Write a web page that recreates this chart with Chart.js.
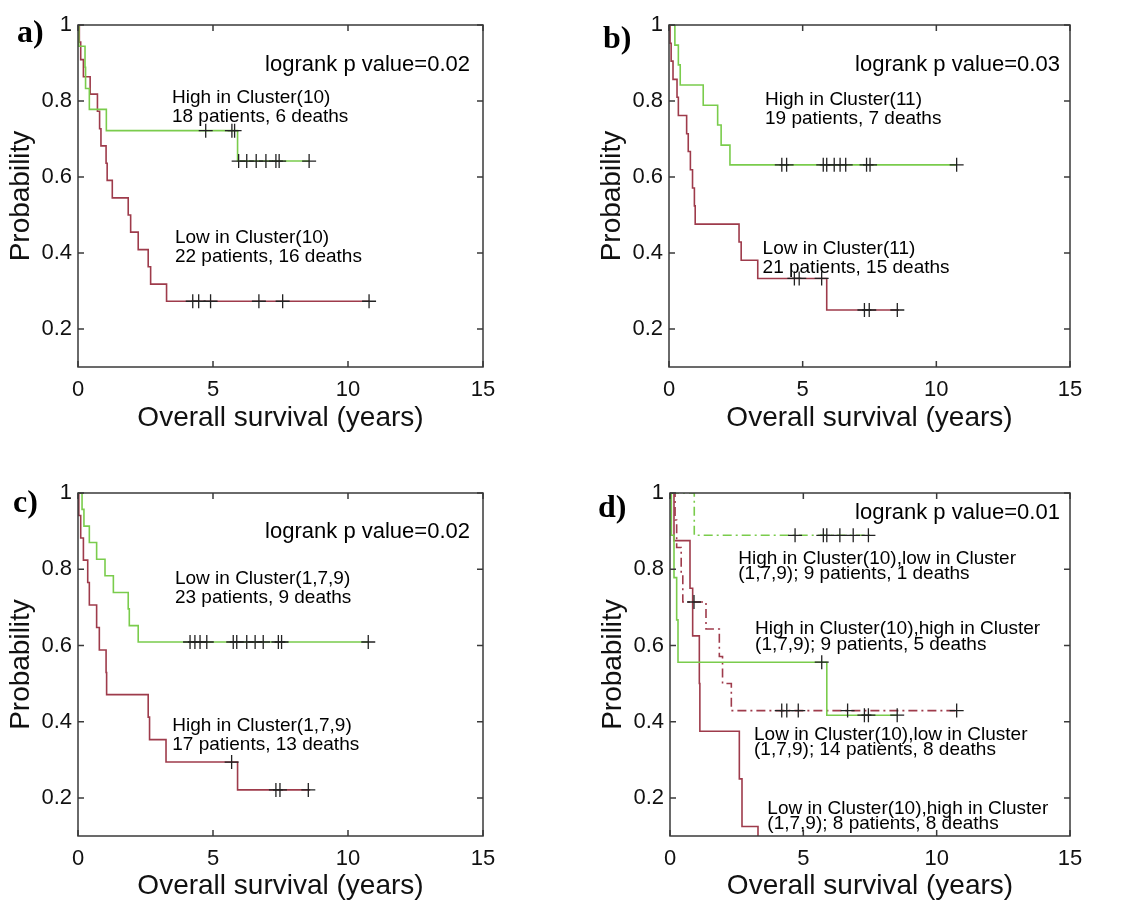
<!DOCTYPE html>
<html>
<head>
<meta charset="utf-8">
<script src="https://cdn.jsdelivr.net/npm/chart.js@4.4.0/dist/chart.umd.min.js"></script>
<style>
  body { margin: 0; background: #fff; }
  #wrap { position: relative; width: 1125px; height: 903px; overflow: hidden; }
  canvas { position: absolute; }
</style>
</head>
<body>
<div id="wrap">
  <canvas id="pa" width="545" height="450" style="left:0;top:0"></canvas>
  <canvas id="pb" width="534" height="450" style="left:591px;top:0"></canvas>
  <canvas id="pc" width="545" height="435" style="left:0;top:468px"></canvas>
  <canvas id="pd" width="533" height="435" style="left:592px;top:468px"></canvas>
</div>
<script>
// axis ticks
const xTicks = [0, 5, 10, 15];
const yTicks = [0.2, 0.4, 0.6, 0.8, 1];

// a) Cluster(10)
const aHighT = [0, 0.03, 0.26, 0.28, 0.42, 1.05, 5.91, 8.56];
const aHighS = [1, 0.944, 0.889, 0.833, 0.778, 0.722, 0.642, 0.642];
const aHighCensT = [4.73, 5.7, 5.8, 5.95, 6.25, 6.6, 6.96, 7.33, 7.45, 8.56];
const aHighCensS = [0.722, 0.722, 0.722, 0.642, 0.642, 0.642, 0.642, 0.642, 0.642, 0.642];
const aLowT = [0, 0.05, 0.1, 0.2, 0.45, 0.72, 0.8, 0.85, 1.04, 1.08, 1.27, 1.86, 1.95, 2.23, 2.6, 2.69, 3.28, 10.78];
const aLowS = [1, 0.955, 0.909, 0.864, 0.818, 0.773, 0.727, 0.682, 0.636, 0.591, 0.545, 0.5, 0.455, 0.409, 0.364, 0.318, 0.273, 0.273];
const aLowCensT = [4.25, 4.47, 4.91, 6.7, 7.58, 10.78];
const aLowCensS = [0.273, 0.273, 0.273, 0.273, 0.273, 0.273];

// b) Cluster(11)
const bHighT = [0, 0.22, 0.35, 0.42, 1.28, 1.82, 1.95, 2.28, 10.76];
const bHighS = [1, 0.947, 0.895, 0.842, 0.789, 0.737, 0.684, 0.632, 0.632];
const bHighCensT = [4.22, 4.4, 5.77, 5.9, 6.18, 6.4, 6.61, 7.39, 7.52, 10.76];
const bHighCensS = [0.632, 0.632, 0.632, 0.632, 0.632, 0.632, 0.632, 0.632, 0.632, 0.632];
const bLowT = [0, 0.04, 0.08, 0.15, 0.3, 0.35, 0.66, 0.72, 0.8, 0.88, 0.95, 0.98, 2.62, 2.7, 3.32, 5.9, 8.6];
const bLowS = [1, 0.952, 0.905, 0.857, 0.81, 0.762, 0.714, 0.667, 0.619, 0.571, 0.524, 0.476, 0.429, 0.381, 0.333, 0.25, 0.25];
const bLowCensT = [4.69, 4.87, 5.71, 7.31, 7.49, 8.54];
const bLowCensS = [0.333, 0.333, 0.333, 0.25, 0.25, 0.25];

// c) Cluster(1,7,9)
const cLowT = [0, 0.15, 0.22, 0.42, 0.69, 1.0, 1.31, 1.86, 1.9, 2.23, 10.75];
const cLowS = [1, 0.957, 0.913, 0.87, 0.826, 0.783, 0.739, 0.696, 0.652, 0.609, 0.609];
const cLowCensT = [4.15, 4.33, 4.52, 4.77, 5.75, 5.88, 6.25, 6.56, 6.86, 7.42, 7.54, 10.75];
const cLowCensS = [0.609, 0.609, 0.609, 0.609, 0.609, 0.609, 0.609, 0.609, 0.609, 0.609, 0.609, 0.609];
const cHighT = [0, 0.03, 0.1, 0.2, 0.36, 0.42, 0.69, 0.79, 1.04, 1.06, 2.6, 2.65, 3.26, 5.91, 8.6];
const cHighS = [1, 0.941, 0.882, 0.824, 0.765, 0.706, 0.647, 0.588, 0.529, 0.471, 0.412, 0.353, 0.294, 0.221, 0.221];
const cHighCensT = [5.69, 7.33, 7.48, 8.53];
const cHighCensS = [0.294, 0.221, 0.221, 0.221];

// d) Cluster(10) x Cluster(1,7,9)
const dHiLoT = [0, 0.91, 7.5];
const dHiLoS = [1, 0.889, 0.889];
const dHiLoCensT = [4.69, 5.75, 5.88, 6.37, 6.87, 7.44];
const dHiLoCensS = [0.889, 0.889, 0.889, 0.889, 0.889, 0.889];
const dHiHiT = [0, 0.05, 0.15, 0.25, 0.3, 5.88, 8.52];
const dHiHiS = [1, 0.889, 0.778, 0.667, 0.556, 0.417, 0.417];
const dHiHiCensT = [5.69, 7.29, 7.44, 8.52];
const dHiHiCensS = [0.556, 0.417, 0.417, 0.417];
const dLoLoT = [0, 0.19, 0.25, 0.42, 0.48, 1.35, 1.85, 1.97, 2.3, 10.75];
const dLoLoS = [1, 0.929, 0.857, 0.786, 0.714, 0.643, 0.571, 0.5, 0.429, 0.429];
const dLoLoCensT = [0.9, 4.19, 4.38, 4.81, 6.66, 10.75];
const dLoLoCensS = [0.714, 0.429, 0.429, 0.429, 0.429, 0.429];
const dLoHiT = [0, 0.15, 0.75, 0.85, 1.1, 1.12, 2.6, 2.7, 3.3];
const dLoHiS = [1, 0.875, 0.75, 0.625, 0.5, 0.375, 0.25, 0.125, 0];

const FONT = '"Liberation Sans", Arial, sans-serif';
const GREEN = '#7acc4c';
const RED = '#9e3b4b';
const DASHDOT = [9, 4, 2, 4];

function curve(t, s, color, dash) {
  return {
    data: t.map((x, i) => ({ x: x, y: s[i] })),
    stepped: 'before', borderColor: color, borderWidth: 1.6,
    borderDash: dash || [], pointRadius: 0, pointHoverRadius: 0,
    fill: false, order: 1
  };
}
function marks(t, s) {
  return {
    data: t.map((x, i) => ({ x: x, y: s[i] })),
    showLine: false, pointStyle: 'cross', pointRadius: 7,
    borderColor: '#222', backgroundColor: '#222', pointBorderWidth: 1.3, order: 0
  };
}

// box, inner ticks, notes and panel letter
const boxPlugin = {
  id: 'box',
  afterDatasetsDraw(chart, args, o) {
    const ctx = chart.ctx, a = chart.chartArea;
    const x = chart.scales.x, y = chart.scales.y;
    ctx.save();
    ctx.strokeStyle = '#3a3a3a';
    ctx.lineWidth = 1.5;
    ctx.strokeRect(a.left, a.top, a.right - a.left, a.bottom - a.top);
    ctx.beginPath();
    xTicks.forEach(v => {
      const px = x.getPixelForValue(v);
      ctx.moveTo(px, a.bottom); ctx.lineTo(px, a.bottom - 6);
      ctx.moveTo(px, a.top); ctx.lineTo(px, a.top + 6);
    });
    yTicks.forEach(v => {
      const py = y.getPixelForValue(v);
      ctx.moveTo(a.left, py); ctx.lineTo(a.left + 6, py);
      ctx.moveTo(a.right, py); ctx.lineTo(a.right - 6, py);
    });
    ctx.stroke();

    ctx.fillStyle = '#000';
    ctx.textAlign = 'left';
    ctx.textBaseline = 'middle';
    o.notes.forEach(n => {
      ctx.font = (n.size || 19) + 'px ' + FONT;
      n.lines.forEach((ln, i) => {
        ctx.fillText(ln, x.getPixelForValue(n.x), y.getPixelForValue(n.y) + i * (n.gap || 19));
      });
    });
    ctx.font = 'bold 32px "Liberation Serif", "DejaVu Serif", serif';
    ctx.fillText(o.letter, o.lx, o.ly);
    ctx.restore();
  }
};

function panel(id, datasets, notes, letter, lx, ly, padRight, xAxisH) {
  const titlePad = Math.max(0, xAxisH - 51 - 16.8);
  new Chart(document.getElementById(id), {
    type: 'line',
    data: { datasets: datasets },
    plugins: [boxPlugin],
    options: {
      responsive: false,
      animation: false,
      layout: { padding: { left: 0, top: 25, right: padRight, bottom: 0 } },
      plugins: {
        legend: { display: false },
        tooltip: { enabled: false },
        box: { notes: notes, letter: letter, lx: lx, ly: ly }
      },
      scales: {
        x: {
          type: 'linear', min: 0, max: 15,
          afterBuildTicks: s => { s.ticks = xTicks.map(v => ({ value: v })); },
          afterFit: s => { s.height = xAxisH; },
          grid: { display: false, drawTicks: false },
          border: { display: false },
          ticks: { font: { size: 22, family: FONT }, color: '#111', padding: 10, maxRotation: 0, callback: v => String(v) },
          title: { display: true, text: 'Overall survival (years)', font: { size: 28, family: FONT }, color: '#111', padding: { top: 0, bottom: titlePad } }
        },
        y: {
          type: 'linear', min: 0.1, max: 1,
          afterBuildTicks: s => { s.ticks = yTicks.map(v => ({ value: v })); },
          afterFit: s => { s.width = 78; },
          grid: { display: false, drawTicks: false },
          border: { display: false },
          ticks: { font: { size: 22, family: FONT }, color: '#111', padding: 6, callback: v => String(v) },
          title: { display: true, text: 'Probability', font: { size: 28, family: FONT }, color: '#111', padding: { top: 4, bottom: 0 } }
        }
      }
    }
  });
}

panel('pa', [
  curve(aHighT, aHighS, GREEN), marks(aHighCensT, aHighCensS),
  curve(aLowT, aLowS, RED), marks(aLowCensT, aLowCensS)
], [
  { x: 6.93, y: 0.895, size: 22, lines: ['logrank p value=0.02'] },
  { x: 3.48, y: 0.808, lines: ['High in Cluster(10)', '18 patients, 6 deaths'] },
  { x: 3.59, y: 0.439, lines: ['Low in Cluster(10)', '22 patients, 16 deaths'] }
], 'a)', 17, 34, 62, 83);

panel('pb', [
  curve(bHighT, bHighS, GREEN), marks(bHighCensT, bHighCensS),
  curve(bLowT, bLowS, RED), marks(bLowCensT, bLowCensS)
], [
  { x: 6.96, y: 0.895, size: 22, lines: ['logrank p value=0.03'] },
  { x: 3.59, y: 0.803, lines: ['High in Cluster(11)', '19 patients, 7 deaths'] },
  { x: 3.5, y: 0.412, lines: ['Low in Cluster(11)', '21 patients, 15 deaths'] }
], 'b)', 12, 40, 55, 83);

panel('pc', [
  curve(cLowT, cLowS, GREEN), marks(cLowCensT, cLowCensS),
  curve(cHighT, cHighS, RED), marks(cHighCensT, cHighCensS)
], [
  { x: 6.93, y: 0.898, size: 22, lines: ['logrank p value=0.02'] },
  { x: 3.59, y: 0.774, lines: ['Low in Cluster(1,7,9)', '23 patients, 9 deaths'] },
  { x: 3.49, y: 0.388, lines: ['High in Cluster(1,7,9)', '17 patients, 13 deaths'] }
], 'c)', 13, 36, 62, 67);

panel('pd', [
  curve(dHiLoT, dHiLoS, GREEN, DASHDOT), marks(dHiLoCensT, dHiLoCensS),
  curve(dHiHiT, dHiHiS, GREEN), marks(dHiHiCensT, dHiHiCensS),
  curve(dLoLoT, dLoLoS, RED, DASHDOT), marks(dLoLoCensT, dLoLoCensS),
  curve(dLoHiT, dLoHiS, RED)
], [
  { x: 6.94, y: 0.947, size: 22, lines: ['logrank p value=0.01'] },
  { x: 2.56, y: 0.827, gap: 15, lines: ['High in Cluster(10),low in Cluster', '(1,7,9); 9 patients, 1 deaths'] },
  { x: 3.19, y: 0.643, gap: 16, lines: ['High in Cluster(10),high in Cluster', '(1,7,9); 9 patients, 5 deaths'] },
  { x: 3.15, y: 0.365, gap: 15, lines: ['Low in Cluster(10),low in Cluster', '(1,7,9); 14 patients, 8 deaths'] },
  { x: 3.65, y: 0.172, gap: 15, lines: ['Low in Cluster(10),high in Cluster', '(1,7,9); 8 patients, 8 deaths'] }
], 'd)', 6, 41, 55, 67);
</script>
</body>
</html>
